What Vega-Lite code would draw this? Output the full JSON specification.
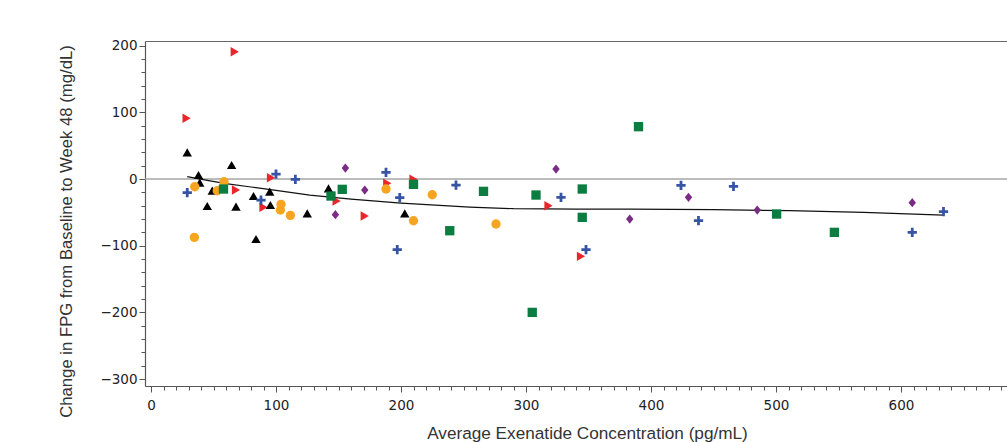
{
  "$schema": "https://vega.github.io/schema/vega-lite/v6.json",
  "width": 862,
  "height": 345,
  "autosize": {"type": "none"},
  "padding": {"left": 145, "top": 41, "right": 0, "bottom": 56},
  "background": "white",
  "config": {"view": {"stroke": null}, "axis": {"grid": false}},
  "datasets": {
    "points": [
      {"conc": 28.5, "fpg": 91, "grp": "1"}, {"conc": 67, "fpg": 191, "grp": "1"}, {"conc": 68, "fpg": -16.5, "grp": "1"},
      {"conc": 90, "fpg": -42.5, "grp": "1"}, {"conc": 96, "fpg": 2, "grp": "1"}, {"conc": 148.5, "fpg": -33, "grp": "1"},
      {"conc": 171, "fpg": -55.5, "grp": "1"}, {"conc": 189, "fpg": -6.5, "grp": "1"}, {"conc": 210, "fpg": -0.5, "grp": "1"},
      {"conc": 318, "fpg": -40, "grp": "1"}, {"conc": 344, "fpg": -116, "grp": "1"},
      {"conc": 29, "fpg": 40, "grp": "2"}, {"conc": 38, "fpg": 6, "grp": "2"}, {"conc": 39, "fpg": -5.5, "grp": "2"},
      {"conc": 49, "fpg": -17.5, "grp": "2"}, {"conc": 64.5, "fpg": 21, "grp": "2"}, {"conc": 45, "fpg": -40.5, "grp": "2"},
      {"conc": 68, "fpg": -41.5, "grp": "2"}, {"conc": 84, "fpg": -90, "grp": "2"}, {"conc": 82, "fpg": -25.5, "grp": "2"},
      {"conc": 95.5, "fpg": -39, "grp": "2"}, {"conc": 95, "fpg": -19, "grp": "2"}, {"conc": 125, "fpg": -51.5, "grp": "2"},
      {"conc": 142, "fpg": -14, "grp": "2"}, {"conc": 203, "fpg": -51.5, "grp": "2"},
      {"conc": 35, "fpg": -11.5, "grp": "3"}, {"conc": 53, "fpg": -17.5, "grp": "3"}, {"conc": 58.4, "fpg": -4, "grp": "3"},
      {"conc": 34.7, "fpg": -87.5, "grp": "3"}, {"conc": 104, "fpg": -38, "grp": "3"}, {"conc": 103.5, "fpg": -46.5, "grp": "3"},
      {"conc": 111.5, "fpg": -54.5, "grp": "3"}, {"conc": 188, "fpg": -15, "grp": "3"}, {"conc": 210, "fpg": -62.5, "grp": "3"},
      {"conc": 225, "fpg": -23.5, "grp": "3"}, {"conc": 276, "fpg": -67.5, "grp": "3"},
      {"conc": 58, "fpg": -15, "grp": "4"}, {"conc": 144, "fpg": -25.5, "grp": "4"}, {"conc": 153, "fpg": -15.5, "grp": "4"},
      {"conc": 210, "fpg": -8, "grp": "4"}, {"conc": 239, "fpg": -77.5, "grp": "4"}, {"conc": 266, "fpg": -18.5, "grp": "4"},
      {"conc": 305, "fpg": -200, "grp": "4"}, {"conc": 308, "fpg": -24, "grp": "4"}, {"conc": 345, "fpg": -15, "grp": "4"},
      {"conc": 345, "fpg": -57.5, "grp": "4"}, {"conc": 390, "fpg": 78.5, "grp": "4"}, {"conc": 500.5, "fpg": -52.5, "grp": "4"},
      {"conc": 546.7, "fpg": -80, "grp": "4"},
      {"conc": 29, "fpg": -20.5, "grp": "5"}, {"conc": 88, "fpg": -31.5, "grp": "5"}, {"conc": 100, "fpg": 7.5, "grp": "5"},
      {"conc": 115.5, "fpg": -0.5, "grp": "5"}, {"conc": 188, "fpg": 10, "grp": "5"}, {"conc": 199, "fpg": -28, "grp": "5"},
      {"conc": 197, "fpg": -106, "grp": "5"}, {"conc": 244, "fpg": -9, "grp": "5"}, {"conc": 328, "fpg": -27.5, "grp": "5"},
      {"conc": 348, "fpg": -106, "grp": "5"}, {"conc": 424, "fpg": -9.5, "grp": "5"}, {"conc": 438, "fpg": -62.5, "grp": "5"},
      {"conc": 466, "fpg": -11, "grp": "5"}, {"conc": 609, "fpg": -80, "grp": "5"}, {"conc": 634, "fpg": -49, "grp": "5"},
      {"conc": 155.5, "fpg": 16.5, "grp": "6"}, {"conc": 147.5, "fpg": -53.5, "grp": "6"}, {"conc": 171, "fpg": -16.5, "grp": "6"},
      {"conc": 324, "fpg": 15, "grp": "6"}, {"conc": 383, "fpg": -60, "grp": "6"}, {"conc": 430, "fpg": -27.5, "grp": "6"},
      {"conc": 485, "fpg": -46.5, "grp": "6"}, {"conc": 609, "fpg": -35.5, "grp": "6"}
    ],
    "curve": [
      {"conc": 29, "fpg": 3.5}, {"conc": 45, "fpg": -2}, {"conc": 60, "fpg": -7}, {"conc": 80, "fpg": -12},
      {"conc": 100, "fpg": -17}, {"conc": 127, "fpg": -24}, {"conc": 160, "fpg": -30}, {"conc": 200, "fpg": -36},
      {"conc": 255, "fpg": -42}, {"conc": 290, "fpg": -44.5}, {"conc": 340, "fpg": -45}, {"conc": 383, "fpg": -45},
      {"conc": 450, "fpg": -46}, {"conc": 511, "fpg": -47.5}, {"conc": 570, "fpg": -50}, {"conc": 634, "fpg": -54}
    ],
    "zero": [{"fpg": 0}]
  },
  "layer": [
    {
      "data": {"name": "zero"},
      "mark": {"type": "rule", "color": "#a6a6a6", "strokeWidth": 1.6},
      "encoding": {
        "y": {"field": "fpg", "type": "quantitative", "scale": {"domain": [-310.4, 207], "nice": false, "zero": false}, "axis": null}
      }
    },
    {
      "data": {"name": "curve"},
      "mark": {"type": "line", "color": "#111111", "strokeWidth": 1.2},
      "encoding": {
        "x": {"field": "conc", "type": "quantitative", "scale": {"domain": [-4.8, 684.8], "nice": false, "zero": false},
              "axis": {"orient": "top", "ticks": false, "labels": false, "title": null, "domainColor": "#666666", "domainWidth": 1.2}},
        "y": {"field": "fpg", "type": "quantitative", "scale": {"domain": [-310.4, 207], "nice": false, "zero": false}, "axis": null}
      }
    },
    {
      "data": {"name": "points"},
      "mark": {"type": "point", "filled": true, "opacity": 1, "strokeWidth": 0},
      "encoding": {
        "x": {
          "field": "conc", "type": "quantitative",
          "scale": {"domain": [-4.8, 684.8], "nice": false, "zero": false},
          "axis": {
            "orient": "bottom",
            "values": [0,10,20,30,40,50,60,70,80,90,100,110,120,130,140,150,160,170,180,190,200,210,220,230,240,250,260,270,280,290,300,310,320,330,340,350,360,370,380,390,400,410,420,430,440,450,460,470,480,490,500,510,520,530,540,550,560,570,580,590,600,610,620,630,640,650,660,670,680],
            "labelExpr": "datum.value % 100 === 0 ? datum.label : ''",
            "labelOverlap": false,
            "tickSize": {"condition": {"test": "datum.value % 100 === 0", "value": 6}, "value": 4},
            "tickColor": "#555555",
            "domainColor": "#555555",
            "domainWidth": 1.2,
            "labelFont": "DejaVu Sans",
            "labelFontSize": 13.5,
            "labelColor": "#222222",
            "labelPadding": 6,
            "title": "Average Exenatide Concentration (pg/mL)",
            "titleFont": "Liberation Sans",
            "titleFontSize": 17.2,
            "titleFontWeight": "normal",
            "titleColor": "#333333",
            "titleX": 442,
            "titleY": 52,
            "titleBaseline": "alphabetic"
          }
        },
        "y": {
          "field": "fpg", "type": "quantitative",
          "scale": {"domain": [-310.4, 207], "nice": false, "zero": false},
          "axis": {
            "orient": "left",
            "values": [-300,-280,-260,-240,-220,-200,-180,-160,-140,-120,-100,-80,-60,-40,-20,0,20,40,60,80,100,120,140,160,180,200],
            "labelExpr": "datum.value % 100 === 0 ? datum.label : ''",
            "labelOverlap": false,
            "tickSize": {"condition": {"test": "datum.value % 100 === 0", "value": 6}, "value": 4},
            "tickColor": "#555555",
            "domainColor": "#555555",
            "domainWidth": 1.2,
            "labelFont": "DejaVu Sans",
            "labelFontSize": 13.5,
            "labelColor": "#222222",
            "labelPadding": 2,
            "title": "Change in FPG from Baseline to Week 48 (mg/dL)",
            "titleFont": "Liberation Sans",
            "titleFontSize": 16.7,
            "titleFontWeight": "normal",
            "titleColor": "#333333",
            "titleX": -70,
            "titleY": 190,
            "titleAngle": -90,
            "titleAlign": "center",
            "titleBaseline": "bottom"
          }
        },
        "color": {
          "field": "grp", "type": "nominal",
          "scale": {"domain": ["1","2","3","4","5","6"], "range": ["#e8262b", "#000000", "#f7a521", "#0b7d40", "#3753a4", "#7a2b84"]},
          "legend": null
        },
        "shape": {
          "field": "grp", "type": "nominal",
          "scale": {"domain": ["1","2","3","4","5","6"], "range": ["triangle-right", "triangle-up", "circle", "square", "M-0.3,-1H0.3V-0.3H1V0.3H0.3V1H-0.3V0.3H-1V-0.3H-0.3Z", "M0,-1L0.8,0L0,1L-0.8,0Z"]},
          "legend": null
        },
        "size": {
          "field": "grp", "type": "nominal",
          "scale": {"domain": ["1","2","3","4","5","6"], "range": [90, 85, 58, 52, 62, 72]},
          "legend": null
        }
      }
    }
  ],
  "resolve": {"axis": {"x": "independent", "y": "independent"}}
}
